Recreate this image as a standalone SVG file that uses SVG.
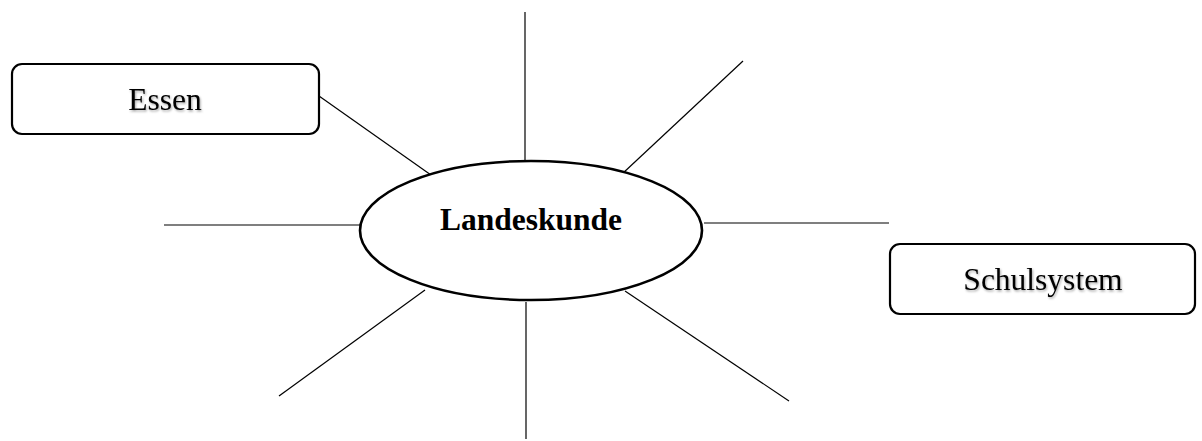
<svg xmlns="http://www.w3.org/2000/svg" width="1202" height="441" viewBox="0 0 1202 441">
<defs>
<style>
.box{fill:#fff;stroke:#000;stroke-width:2.2}
.lbl{font-family:"Liberation Serif","Times New Roman",serif;font-size:31.5px;fill:#000;text-anchor:middle}
.conn line{stroke:#000;stroke-width:1.2}
</style>
<filter id="sh" x="-10%" y="-30%" width="120%" height="160%"><feDropShadow dx="1" dy="1.5" stdDeviation="0.8" flood-color="#000" flood-opacity="0.35"/></filter>
</defs>
<rect width="1202" height="441" fill="#fff"/>
<g id="connectors" class="conn">
<line x1="525" y1="12" x2="525" y2="161" stroke="#444"/>
<line x1="743" y1="61" x2="622" y2="174"/>
<line x1="704" y1="223" x2="889" y2="223"/>
<line x1="164" y1="225" x2="360" y2="225"/>
<line x1="425" y1="290" x2="279" y2="396"/>
<line x1="526" y1="302" x2="526" y2="439" stroke="#444"/>
<line x1="625" y1="291" x2="789" y2="401"/>
<line x1="319" y1="96" x2="431" y2="175"/>
</g>
<g id="landeskunde">
<ellipse cx="531" cy="230.5" rx="171" ry="69.5" fill="#fff" stroke="#000" stroke-width="2.6"/>
<text x="531" y="230" class="lbl" style="font-weight:bold">Landeskunde</text>
</g>
<g id="essen">
<rect x="12" y="64" width="307" height="70" rx="10" class="box"/>
<text x="165" y="110" class="lbl" filter="url(#sh)">Essen</text>
</g>
<g id="schulsystem">
<rect x="890" y="244" width="305" height="70" rx="10" class="box"/>
<text x="1043" y="290" class="lbl" filter="url(#sh)">Schulsystem</text>
</g>
</svg>
